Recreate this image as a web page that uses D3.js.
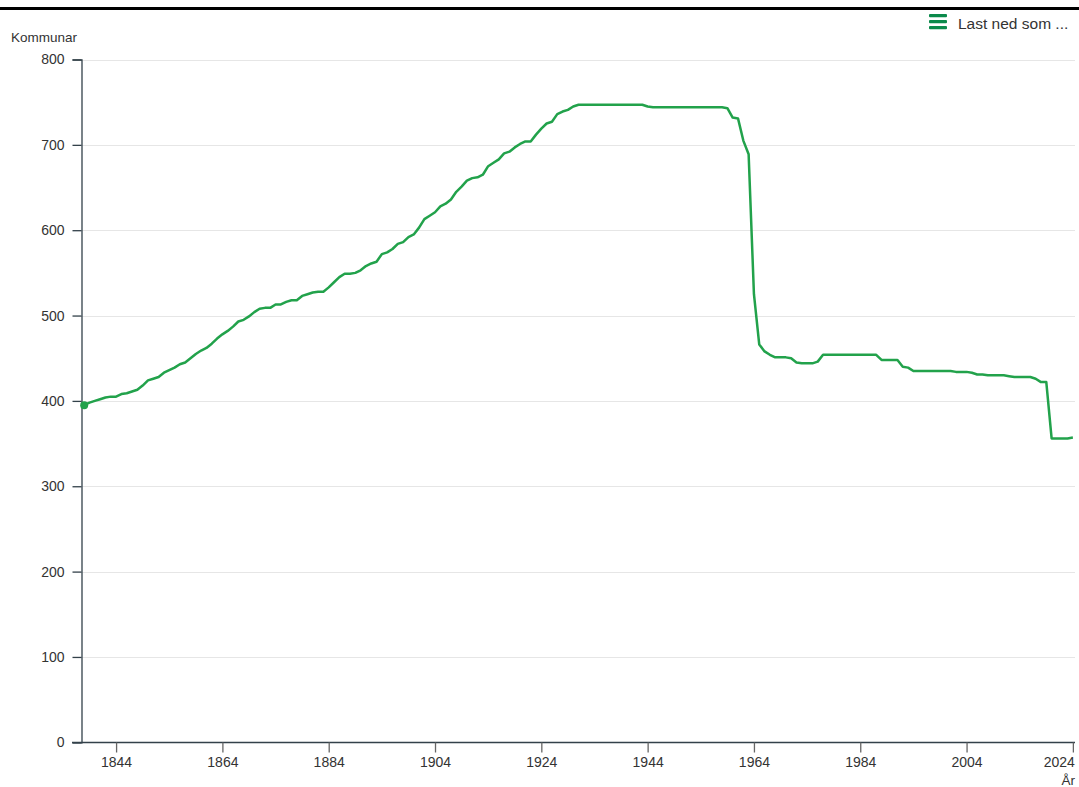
<!DOCTYPE html>
<html>
<head>
<meta charset="utf-8">
<script src="https://cdn.jsdelivr.net/npm/d3@7"></script>
<style>
  html, body { margin: 0; padding: 0; overflow: hidden; background: #fff; }
  svg { display: block; }
  svg text { font-family: "Liberation Sans", Arial, sans-serif; }
</style>
</head>
<body>
<div id="chart"></div>
<script>
// Number of municipalities (kommunar) per year
const startYear = 1838;
const kommunar = [
  395, 398, 400, 402, 404, 405, 405, 408, 409, 411, // 1838-1847
  413, 418, 424, 426, 428, 433, 436, 439, 443, 445, // 1848-1857
  450, 455, 459, 462, 467, 473, 478, 482, 487, 493, // 1858-1867
  495, 499, 504, 508, 509, 509, 513, 513, 516, 518, // 1868-1877
  518, 523, 525, 527, 528, 528, 533, 539, 545, 549, // 1878-1887
  549, 550, 553, 558, 561, 563, 572, 574, 578, 584, // 1888-1897
  586, 592, 595, 603, 613, 617, 621, 628, 631, 636, // 1898-1907
  645, 651, 658, 661, 662, 665, 675, 679, 683, 690, // 1908-1917
  692, 697, 701, 704, 704, 712, 719, 725, 727, 736, // 1918-1927
  739, 741, 745, 747, 747, 747, 747, 747, 747, 747, // 1928-1937
  747, 747, 747, 747, 747, 747, 745, 744, 744, 744, // 1938-1947
  744, 744, 744, 744, 744, 744, 744, 744, 744, 744, // 1948-1957
  744, 743, 732, 731, 705, 689, 525, 466, 458, 454, // 1958-1967
  451, 451, 451, 450, 445, 444, 444, 444, 446, 454, // 1968-1977
  454, 454, 454, 454, 454, 454, 454, 454, 454, 454, // 1978-1987
  448, 448, 448, 448, 440, 439, 435, 435, 435, 435, // 1988-1997
  435, 435, 435, 435, 434, 434, 434, 433, 431, 431, // 1998-2007
  430, 430, 430, 430, 429, 428, 428, 428, 428, 426, // 2008-2017
  422, 422, 356, 356, 356, 356, 357                 // 2018-2024
];
const years = kommunar.map((v, i) => startYear + i);
const xTicks = [1844, 1864, 1884, 1904, 1924, 1944, 1964, 1984, 2004, 2024];
const yTicks = [0, 100, 200, 300, 400, 500, 600, 700, 800];

const width = 1079, height = 787;
const green = "#22a24b";
const axisColor = "#33414a";
const textColor = "#333333";

const svg = d3.select("#chart").append("svg")
  .attr("width", width)
  .attr("height", height);

// top bar
svg.append("rect")
  .attr("x", 0).attr("y", 7)
  .attr("width", width).attr("height", 3)
  .attr("fill", "#000");

const x = d3.scaleLinear().domain([1837.4, 2024.4]).range([81, 1075]);
const y = d3.scaleLinear().domain([0, 800]).range([742.3, 59.5]);

// grid lines
svg.append("g")
  .selectAll("line")
  .data(yTicks.filter(d => d > 0))
  .enter().append("line")
  .attr("x1", 81).attr("x2", 1075)
  .attr("y1", d => Math.round(y(d)) + 0.5)
  .attr("y2", d => Math.round(y(d)) + 0.5)
  .style("stroke", "#e6e6e6")
  .style("stroke-width", 1);

// y axis
const yAxis = svg.append("g")
  .attr("transform", "translate(81.5,0)")
  .call(d3.axisLeft(y).tickValues(yTicks).tickSize(9).tickPadding(8));
yAxis.select(".domain").attr("stroke", axisColor).attr("stroke-width", 1.3);
yAxis.selectAll(".tick line").attr("stroke", axisColor).attr("stroke-width", 1.3);
yAxis.selectAll(".tick text")
  .style("font-size", "14px")
  .attr("fill", textColor);

// x axis
const xAxis = svg.append("g")
  .attr("transform", "translate(0,742.5)")
  .call(d3.axisBottom(x).tickValues(xTicks).tickFormat(d3.format("d")).tickSize(10).tickPadding(5));
xAxis.select(".domain").attr("d", "M72,0H1075").attr("stroke", axisColor).attr("stroke-width", 1.3);
xAxis.selectAll(".tick line").attr("stroke", "#666").attr("stroke-width", 1.3);
xAxis.selectAll(".tick text")
  .style("font-size", "14px")
  .attr("fill", textColor);
// keep the last label inside the plot edge
xAxis.selectAll(".tick text")
  .filter(d => d === xTicks[xTicks.length - 1])
  .attr("text-anchor", "end")
  .attr("dx", 1.5);

// axis titles
svg.append("text")
  .attr("x", 11).attr("y", 42)
  .style("font-size", "13.5px")
  .attr("fill", textColor)
  .text("Kommunar");

svg.append("text")
  .attr("x", 1075).attr("y", 785)
  .attr("text-anchor", "end")
  .style("font-size", "13.5px")
  .attr("fill", textColor)
  .text("År");

// the line
const line = d3.line()
  .x((d, i) => x(years[i]))
  .y(d => y(d));

svg.append("path")
  .datum(kommunar)
  .attr("d", line)
  .attr("fill", "none")
  .attr("stroke", green)
  .attr("stroke-width", 2.5)
  .attr("stroke-linejoin", "round");

// marker on first point
svg.append("circle")
  .attr("cx", x(years[0]))
  .attr("cy", y(kommunar[0]))
  .attr("r", 4)
  .attr("fill", green);

// export menu
const menu = svg.append("g").attr("transform", "translate(929,14)");
[0, 6, 12].forEach(dy => {
  menu.append("rect")
    .attr("x", 0).attr("y", dy)
    .attr("width", 18).attr("height", 3.2)
    .attr("rx", 1)
    .attr("fill", "#0b8a4b");
});
svg.append("text")
  .attr("x", 958).attr("y", 29)
  .style("font-size", "15.5px")
  .attr("fill", textColor)
  .text("Last ned som ...");
</script>
</body>
</html>
